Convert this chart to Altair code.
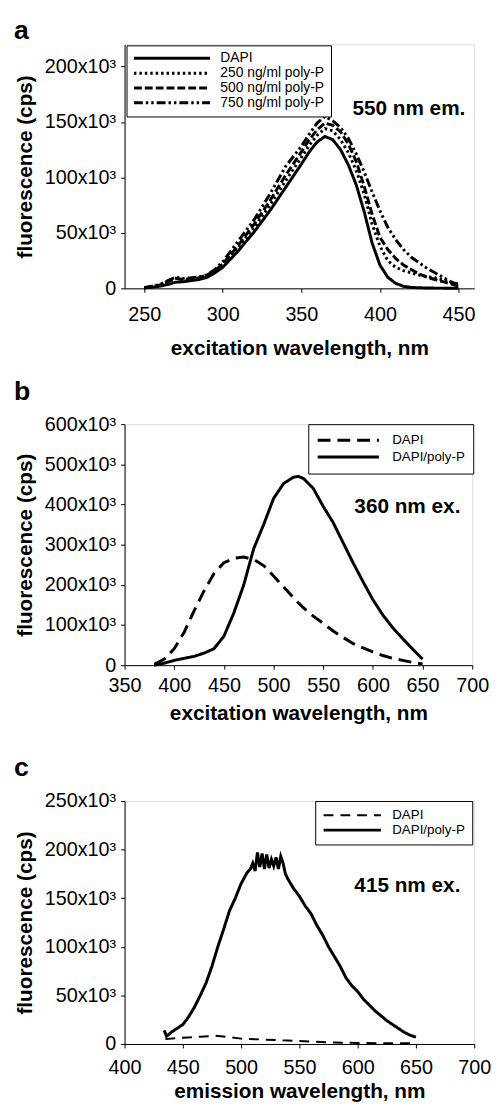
import altair as alt
import pandas as pd

FONT = "Liberation Sans"

# ---------------- panel a : excitation spectra, 550 nm emission ----------------
a_wl = [250, 255, 260, 265, 270, 275, 280, 285, 290, 295, 300, 310, 320, 330, 340,
        350, 355, 360, 365, 370, 375, 380, 385, 390, 395, 400, 405, 410, 415, 420,
        425, 430, 435, 440, 445, 450]
a_dapi = [0.5, 1, 2, 3.5, 5.5, 6, 7, 8, 10, 14, 19, 34, 51, 70, 91,
          112, 123, 132, 137, 134, 125, 111, 93, 69, 41, 21, 10, 4.5, 1.8, 0.8,
          0.5, 0.3, 0.2, 0.2, 0.1, 0.1]
a_250 = [0.5, 1.5, 3, 6, 9, 7, 8, 9, 11, 15, 21, 37, 55, 75, 97,
         118, 129, 138, 144, 142, 134, 122, 106, 85, 58, 38, 25, 19, 16, 14,
         12, 10.5, 9.5, 7.5, 5.5, 4]
a_500 = [0.5, 1.5, 3, 6, 9, 8, 8.5, 9.5, 12, 16, 22, 39, 58, 79, 102,
         123, 134, 143, 149, 147, 141, 130, 114, 92, 67, 46, 35, 27, 21, 17,
         13, 10, 8, 6, 4, 2]
a_750 = [0.5, 2, 3.5, 7, 10, 9, 9.5, 10.5, 12, 17, 24, 43, 62, 85, 110,
         128, 139, 149, 155, 151, 145, 135, 121, 105, 87, 70, 55, 44, 35, 28,
         23, 18, 14, 10, 6, 3]
a_series = ["DAPI", "250 ng/ml poly-P", "500 ng/ml poly-P", "750 ng/ml poly-P"]
a_yticks = [0, 50000, 100000, 150000, 200000]
a_xticks = [250, 300, 350, 400, 450]

# ---------------- panel b : emission spectra, 360 nm excitation ----------------
b_wl = [380, 390, 400, 410, 420, 430, 440, 450, 460, 470, 480, 490, 500, 510, 520,
        525, 530, 540, 550, 560, 570, 580, 590, 600, 610, 620, 630, 640, 650]
b_dapi = [2, 15, 41, 82, 135, 185, 228, 255, 266, 269, 263, 248, 222, 195, 168,
          155, 143, 122, 104, 85, 69, 54, 43, 33, 24, 17, 12, 7, 3]
b_polyp = [0, 5, 12, 17, 22, 30, 41, 72, 130, 200, 290, 350, 415, 452, 468,
           470, 465, 440, 395, 355, 305, 255, 208, 163, 125, 93, 66, 40, 15]
b_series = ["DAPI", "DAPI/poly-P"]
b_yticks = [0, 100000, 200000, 300000, 400000, 500000, 600000]
b_xticks = [350, 400, 450, 500, 550, 600, 650, 700]

# ---------------- panel c : emission spectra, 415 nm excitation ----------------
c_wl_polyp = [434, 436, 440, 445, 450, 455, 460, 465, 470, 475, 480, 485, 490, 495,
              500, 505, 508, 510, 512, 514, 516, 518, 520, 522, 524, 526, 528, 530,
              532, 534, 536, 538, 540, 545, 550, 555, 560, 565, 570, 575, 580, 585,
              590, 595, 600, 605, 610, 615, 620, 625, 630, 635, 640, 645, 650]
c_polyp = [14, 8, 12, 16, 20, 28, 38, 50, 63, 80, 100, 118, 137, 150,
           165, 176, 180, 186, 178, 197, 182, 196, 180, 195, 181, 190, 183, 192,
           180, 193, 186, 175, 170, 160, 152, 142, 134, 122, 112, 100, 90, 80,
           68, 60, 54, 46, 40, 34, 29, 24, 20, 16, 12, 9, 7]
c_wl_dapi = [435, 450, 465, 478, 490, 500, 520, 540, 560, 580, 600, 625, 650]
c_dapi = [5, 6.5, 7.5, 8.5, 7, 5.5, 4.5, 3.5, 2.5, 1.5, 1, 0.8, 0.7]
c_series = ["DAPI", "DAPI/poly-P"]
c_yticks = [0, 50000, 100000, 150000, 200000, 250000]
c_xticks = [400, 450, 500, 550, 600, 650, 700]


def long_table(wl_lists, val_lists, names):
    rows = []
    for wl, vals, name in zip(wl_lists, val_lists, names):
        for w, v in zip(wl, vals):
            rows.append({"wl": w, "f": v * 1000, "series": name})
    return pd.DataFrame(rows)


df_a = long_table([a_wl] * 4, [a_dapi, a_250, a_500, a_750], a_series)
df_b = long_table([b_wl, b_wl], [b_dapi, b_polyp], b_series)
df_c = long_table([c_wl_dapi, c_wl_polyp], [c_dapi, c_polyp], c_series)

YLABEL = "datum.value == 0 ? '0' : format(datum.value / 1000, 'd') + 'x10\u00b3'"


def panel(df, letter, letter_y, xdom, xticks, ydom, yticks, xtitle, series, dashes,
          widths, leg, note, note_pos, w, h, x_label_pad, x_title_pad):
    x = alt.X("wl:Q", scale=alt.Scale(domain=xdom, nice=False, zero=False),
              axis=alt.Axis(values=xticks, title=xtitle, grid=False, labelFlush=False,
                            labelOverlap=False, tickSize=4, labelPadding=x_label_pad,
                            titlePadding=x_title_pad, labelFont=FONT, labelFontSize=20,
                            titleFont=FONT, titleFontSize=21, titleFontWeight="bold",
                            labelColor="black", titleColor="black", domainColor="black",
                            tickColor="black"))
    y = alt.Y("f:Q", scale=alt.Scale(domain=ydom, nice=False, zero=True),
              axis=alt.Axis(values=yticks, labelExpr=YLABEL, title="fluorescence (cps)",
                            grid=False, labelOverlap=False, tickSize=4, labelPadding=5,
                            titlePadding=9, labelFont=FONT, labelFontSize=20,
                            titleFont=FONT, titleFontSize=21, titleFontWeight="bold",
                            labelColor="black", titleColor="black", domainColor="black",
                            tickColor="black"))
    legend = alt.Legend(title=None, orient="none", legendX=leg["x"], legendY=leg["y"],
                        symbolType="stroke", symbolSize=leg["len"] ** 2,
                        symbolStrokeColor="black", labelFont=FONT,
                        labelFontSize=leg["fs"], labelColor="black",
                        labelOffset=leg["lo"], strokeColor="black", padding=leg["pad"],
                        clipHeight=leg["row"], rowPadding=0, fillColor="white")
    lines = alt.Chart(df).mark_line(color="black", strokeCap="butt").encode(
        x=x, y=y,
        strokeDash=alt.StrokeDash("series:N", scale=alt.Scale(domain=series, range=dashes),
                                  legend=legend),
        strokeWidth=alt.StrokeWidth("series:N", scale=alt.Scale(domain=series, range=widths),
                                    legend=legend),
        order=alt.Order("wl:Q"),
    )
    labels = pd.DataFrame({"t": [note, letter]})
    txt = alt.Chart(labels).transform_filter(alt.datum.t == note).mark_text(
        font=FONT, fontSize=21, fontWeight="bold", align="right", baseline="middle",
        color="black").encode(text="t:N", x=alt.value(note_pos[0]), y=alt.value(note_pos[1]))
    let = alt.Chart(labels).transform_filter(alt.datum.t == letter).mark_text(
        font=FONT, fontSize=27, fontWeight="bold", align="left", baseline="alphabetic",
        color="black").encode(text="t:N", x=alt.value(-112), y=alt.value(letter_y))
    return alt.layer(lines, txt, let).properties(width=w, height=h)


pa = panel(df_a, "a", -5, [237.5, 460], a_xticks, [0, 220000], a_yticks,
           "excitation wavelength, nm", a_series,
           [[1, 0], [2.5, 3], [8, 3], [9, 3, 2.5, 3, 2.5, 3]], [3, 3, 3, 3],
           {"x": 2, "y": 1, "len": 77, "fs": 14, "lo": 9, "pad": 6, "row": 14.3},
           "550 nm em.", (345, 65), 354, 247, 12.5, 13)
pb = panel(df_b, "b", -24.5, [350, 700], b_xticks, [0, 600000], b_yticks,
           "excitation wavelength, nm", b_series,
           [[13, 7], [1, 0]], [3, 3],
           {"x": 186, "y": 0, "len": 62, "fs": 13.5, "lo": 12, "pad": 8, "row": 16.5},
           "360 nm ex.", (340, 84), 352, 244, 7, 6.5)
pc = panel(df_c, "c", -25.5, [400, 700], c_xticks, [0, 250000], c_yticks,
           "emission wavelength, nm", c_series,
           [[10, 7], [1, 0]], [2, 3],
           {"x": 193, "y": 0, "len": 58, "fs": 13.5, "lo": 10, "pad": 7, "row": 15},
           "415 nm ex.", (340, 86), 354, 246, 10, 3)

chart = alt.vconcat(pa, pb, pc, spacing=137.5, bounds="flush").resolve_scale(
    strokeDash="independent", strokeWidth="independent"
).resolve_legend(
    strokeDash="independent", strokeWidth="independent"
).properties(
    padding={"left": 5, "top": 2, "right": 0, "bottom": 0}
).configure_view(stroke="black", strokeWidth=1).configure(background="white")

chart.save("out.html", embed_options={"renderer": "svg", "actions": False})
